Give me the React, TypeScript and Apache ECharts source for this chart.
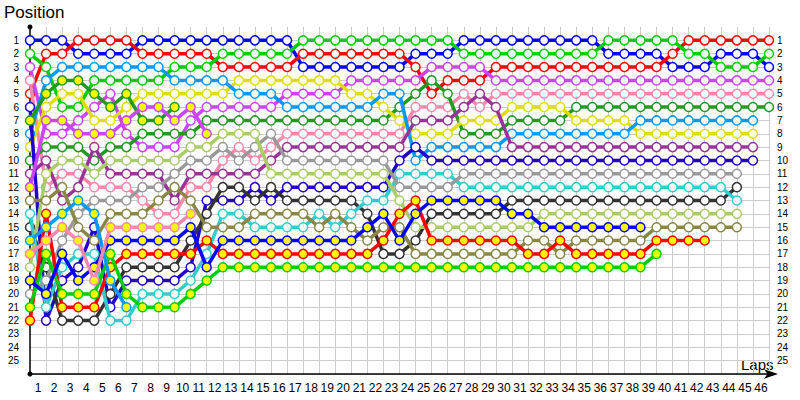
import React, { useEffect, useRef } from "react";
import * as echarts from "echarts";

const lapLabels = ["1","2","3","4","5","6","7","8","9","10","11","12","13","14","15","16","17","18","19","20","21","22","23","24","25","26","27","28","29","30","31","32","33","34","35","36","37","38","39","40","41","42","43","44","45","46"];

// position after each lap (index 0 = grid), null = retired
const blue = [1,1,1,2,2,2,2,1,1,1,1,1,1,1,1,1,1,3,3,3,3,3,3,3,2,2,2,1,1,1,1,1,1,1,1,1,2,2,2,2,3,3,3,2,2,2,3];
const red = [5,2,2,1,1,1,1,2,2,2,2,2,3,3,3,3,3,2,2,2,2,2,2,2,3,5,4,4,4,3,3,3,3,3,3,3,3,3,3,3,2,1,1,1,1,1,1];
const green = [2,3,6,6,4,4,4,4,4,3,3,3,2,2,2,2,2,1,1,1,1,1,1,1,1,1,1,2,2,2,2,2,2,2,2,2,1,1,1,1,1,2,2,3,3,3,2];
const magenta = [3,8,8,7,6,5,8,9,9,9,7,6,6,6,6,6,5,5,5,5,4,4,4,4,4,3,3,3,3,4,4,4,4,4,4,4,4,4,4,4,4,4,4,4,4,4,4];
const pink = [4,12,11,11,12,12,12,13,14,14,12,12,10,9,10,9,8,8,8,8,8,8,8,8,6,6,6,5,6,5,5,5,5,5,5,5,5,5,5,5,5,5,5,5,5,5,5];
const darkGreen = [10,9,9,9,10,9,9,8,8,8,8,7,7,7,7,7,7,7,7,7,7,7,7,6,5,4,5,8,8,8,7,7,7,7,6,6,6,6,6,6,6,6,6,6,6,6,6];
const yellow = [9,6,5,5,7,7,6,5,5,5,5,5,5,4,4,4,4,4,4,4,5,5,6,7,8,8,8,7,7,7,6,6,6,6,7,7,7,7,8,8,8,8,8,8,8,8,null];
const lightBlue = [8,4,3,3,3,3,3,3,3,4,4,4,4,5,5,5,6,6,6,6,6,6,5,5,10,9,9,9,9,9,8,8,8,8,8,8,8,8,7,7,7,7,7,7,7,7,null];
const darkPurple = [11,10,13,12,9,11,11,11,11,13,11,11,11,11,11,10,9,9,9,9,9,9,9,9,7,7,7,6,5,6,9,9,9,9,9,9,9,9,9,9,9,9,9,9,9,9,null];
const indigo = [6,22,19,18,15,21,19,19,19,19,18,13,13,13,12,13,12,12,12,12,12,12,12,10,9,10,10,10,10,10,10,10,10,10,10,10,10,10,10,10,10,10,10,10,10,10,null];
const black = [15,18,22,22,22,20,18,18,18,18,16,14,12,12,13,12,13,13,13,13,13,14,17,17,16,14,14,14,14,14,13,13,13,13,13,13,13,13,13,13,13,13,13,13,12,null,null];
const cyan = [14,21,18,17,17,22,22,20,20,20,19,17,14,14,15,15,15,15,14,15,14,13,13,11,11,11,11,12,12,12,12,12,12,12,12,12,12,12,12,12,12,12,12,12,13,null,null];
const grey = [20,19,16,14,13,13,13,12,12,11,10,10,9,10,9,8,10,10,10,10,10,10,10,12,12,12,12,11,11,11,11,11,11,11,11,11,11,11,11,11,11,11,11,11,11,null,null];
const lightGreen = [18,11,10,10,11,10,10,10,10,10,9,9,8,8,8,11,11,11,11,11,11,11,11,13,15,15,15,15,15,15,15,15,14,14,14,14,14,14,14,14,14,14,14,14,14,null,null];
const olive = [13,13,12,15,16,14,14,14,13,12,13,15,15,15,14,14,14,14,15,14,15,16,15,15,17,17,17,17,17,17,17,16,16,17,16,16,16,16,16,15,15,15,15,15,15,null,null];
const redY = [22,14,21,21,21,18,17,17,17,17,17,16,17,17,17,17,17,17,17,17,17,17,16,14,13,16,16,16,16,16,16,17,17,16,17,17,17,17,17,16,16,16,16];
const greenY = [21,17,20,20,20,17,20,21,21,21,20,19,18,18,18,18,18,18,18,18,18,18,18,18,18,18,18,18,18,18,18,18,18,18,18,18,18,18,18,17];
const blueY = [19,20,17,19,18,16,16,16,16,16,15,18,16,16,16,16,16,16,16,16,16,15,14,16,14,13,13,13,13,13,14,14,15,15,15,15,15,15,15];
const darkGreenY = [7,5,4,4,5,6,5,7,7,6];
const magentaY = [12,7,7,8,8,8,7,6,6,7,6,8];
const lightBlueY = [16,15,14,13,14,19,21];
const pinkY = [17,16,15,16,19,15,15,15,15,15,14];

const drivers = [
  { name: "A", color: "#0000ff", fill: "#ffffff", data: blue },
  { name: "B", color: "#ff0000", fill: "#ffffff", data: red },
  { name: "C", color: "#00cc00", fill: "#ffffff", data: green },
  { name: "D", color: "#cc44ff", fill: "#ffffff", data: magenta },
  { name: "E", color: "#ff88aa", fill: "#ffffff", data: pink },
  { name: "F", color: "#229922", fill: "#ffffff", data: darkGreen },
  { name: "G", color: "#dddd00", fill: "#ffffff", data: yellow },
  { name: "H", color: "#0099ff", fill: "#ffffff", data: lightBlue },
  { name: "I", color: "#993399", fill: "#ffffff", data: darkPurple },
  { name: "J", color: "#2200cc", fill: "#ffffff", data: indigo },
  { name: "K", color: "#333333", fill: "#ffffff", data: black },
  { name: "L", color: "#33cccc", fill: "#ffffff", data: cyan },
  { name: "M", color: "#999999", fill: "#ffffff", data: grey },
  { name: "N", color: "#aacc66", fill: "#ffffff", data: lightGreen },
  { name: "O", color: "#888844", fill: "#ffffff", data: olive },
  { name: "P", color: "#ff0000", fill: "#ffff00", data: redY },
  { name: "Q", color: "#00cc00", fill: "#ffff00", data: greenY },
  { name: "R", color: "#0000ff", fill: "#ffff00", data: blueY },
  { name: "S", color: "#229922", fill: "#ffff00", data: darkGreenY },
  { name: "T", color: "#cc44ff", fill: "#ffff00", data: magentaY },
  { name: "U", color: "#0099ff", fill: "#ffff00", data: lightBlueY },
  { name: "V", color: "#ff88aa", fill: "#ffff00", data: pinkY },
];

const FONT = "Liberation Sans";
const posLabel = (v: number) => (v >= 1 && v <= 25 ? String(v) : "");

export default function App() {
  const ref = useRef<HTMLDivElement>(null);
  useEffect(() => {
    if (!ref.current) return;
    const chart = echarts.init(ref.current, undefined, { renderer: "svg" });
    chart.setOption({
      animation: false,
      backgroundColor: "#ffffff",
      grid: { left: 30, right: 31, top: 27, bottom: 26 },
      xAxis: [
        {
          type: "value", min: 0, max: 46, interval: 1, position: "bottom",
          axisLine: { show: true, onZero: false, symbol: ["none", "arrow"], symbolSize: [7, 14], symbolOffset: [0, 9], lineStyle: { color: "#000", width: 1.5 } },
          axisTick: { show: false }, axisLabel: { show: false },
          splitLine: { show: true, showMinLine: false, lineStyle: { color: "#cccccc", width: 1 } },
          z: 3,
        },
        {
          type: "category", data: lapLabels, boundaryGap: true, position: "bottom",
          axisLine: { show: false }, axisTick: { show: false }, splitLine: { show: false },
          axisLabel: { interval: 0, fontSize: 12, color: "#000", margin: 8, fontFamily: FONT },
        },
      ],
      yAxis: [
        {
          type: "value", inverse: true, min: 0, max: 26, interval: 1, position: "left",
          axisLine: { show: true, onZero: false, symbol: ["circle", "circle"], symbolSize: [5, 5], lineStyle: { color: "#000", width: 1.5 } },
          axisTick: { show: false },
          axisLabel: { formatter: posLabel, fontSize: 10, color: "#000", margin: 11, fontFamily: FONT },
          splitLine: { show: true, showMinLine: false, lineStyle: { color: "#cccccc", width: 1 } },
          z: 3,
        },
        {
          type: "value", inverse: true, min: 0, max: 26, interval: 1, position: "right",
          axisLine: { show: false }, axisTick: { show: false }, splitLine: { show: false },
          axisLabel: { formatter: posLabel, fontSize: 10, color: "#000", margin: 8, fontFamily: FONT, align: "left" },
        },
      ],
      graphic: [
        { type: "text", left: 4, top: 4, style: { text: "Position", fontSize: 17, fontFamily: FONT, fill: "#000" } },
        { type: "text", left: 741, top: 357, style: { text: "Laps", fontSize: 15, fontFamily: FONT, fill: "#000" } },
      ],
      series: drivers.map((d, i) => ({
        type: "line",
        name: d.name,
        xAxisIndex: 0,
        yAxisIndex: 0,
        silent: true,
        data: d.data.map((p, k) => (p == null ? null : [k, p])).filter((v) => v !== null),
        symbol: "circle",
        symbolSize: 9,
        showAllSymbol: true,
        lineStyle: { color: d.color, width: 3.5 },
        itemStyle: { color: d.fill, borderColor: d.color, borderWidth: 1.5 },
        z: 4 + i * 0.01,
      })),
    });
    return () => chart.dispose();
  }, []);
  return <div ref={ref} style={{ width: 800, height: 400, position: "absolute", left: 0, top: 0 }} />;
}
